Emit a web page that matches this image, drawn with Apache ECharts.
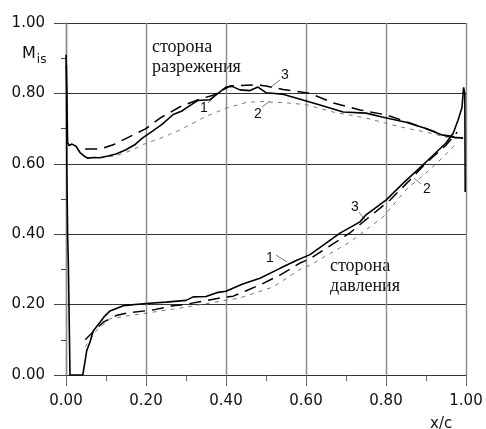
<!DOCTYPE html>
<html><head><meta charset="utf-8">
<script src="https://cdn.jsdelivr.net/npm/echarts@6/dist/echarts.min.js"></script>
<style>html,body{margin:0;padding:0;background:#fff}#c{width:486px;height:429px}</style>
</head><body><div id="c"></div>
<script>
// x/c, M_is
var xTicks = [0, 0.2, 0.4, 0.6, 0.8, 1.0];
var yTicks = [0, 0.2, 0.4, 0.6, 0.8, 1.0];

var curve1Suction = [[0.0,0.91],[0.002,0.80],[0.004,0.66],[0.008,0.652],[0.015,0.656],[0.025,0.650],[0.035,0.632],[0.048,0.620],[0.055,0.616],[0.07,0.618],[0.085,0.617],[0.105,0.622],[0.125,0.628],[0.15,0.640],[0.173,0.655],[0.19,0.672],[0.218,0.694],[0.24,0.712],[0.268,0.740],[0.29,0.750],[0.30,0.758],[0.33,0.780],[0.36,0.782],[0.38,0.80],[0.40,0.818],[0.415,0.820],[0.435,0.810],[0.46,0.808],[0.48,0.818],[0.50,0.802],[0.54,0.798],[0.59,0.782],[0.635,0.767],[0.693,0.747],[0.75,0.744],[0.79,0.733],[0.85,0.718],[0.90,0.700],[0.94,0.682],[0.97,0.675],[0.993,0.673]];
var curve1Pressure = [[0.001,0.88],[0.002,0.60],[0.004,0.40],[0.006,0.31],[0.010,0.0],[0.042,0.0],[0.052,0.07],[0.060,0.094],[0.068,0.125],[0.085,0.15],[0.095,0.165],[0.11,0.182],[0.143,0.197],[0.20,0.203],[0.25,0.207],[0.30,0.212],[0.318,0.222],[0.35,0.223],[0.377,0.234],[0.40,0.238],[0.44,0.258],[0.485,0.275],[0.535,0.303],[0.577,0.326],[0.61,0.342],[0.685,0.403],[0.735,0.435],[0.75,0.455],[0.80,0.497],[0.843,0.545],[0.90,0.605],[0.95,0.659],[0.968,0.687],[0.98,0.724],[0.99,0.76],[0.994,0.817],[0.997,0.80],[0.998,0.52]];
var curve2Suction = [[0.085,0.618],[0.123,0.622],[0.168,0.640],[0.193,0.655],[0.235,0.672],[0.285,0.696],[0.35,0.735],[0.40,0.758],[0.45,0.774],[0.485,0.777],[0.553,0.773],[0.60,0.768],[0.668,0.747],[0.75,0.730],[0.835,0.705],[0.90,0.690],[0.95,0.676],[0.99,0.673]];
var curve2Pressure = [[0.048,0.08],[0.077,0.128],[0.11,0.160],[0.168,0.170],[0.30,0.193],[0.435,0.219],[0.518,0.250],[0.585,0.300],[0.61,0.312],[0.71,0.378],[0.793,0.449],[0.85,0.526],[0.90,0.574],[0.943,0.619],[0.96,0.639],[0.98,0.662]];
var curve3Suction = [[0.048,0.642],[0.085,0.642],[0.12,0.655],[0.168,0.682],[0.20,0.700],[0.235,0.730],[0.285,0.762],[0.335,0.784],[0.368,0.795],[0.41,0.821],[0.43,0.822],[0.477,0.824],[0.50,0.821],[0.543,0.811],[0.61,0.800],[0.668,0.773],[0.735,0.753],[0.80,0.739],[0.86,0.716],[0.90,0.700],[0.943,0.682],[0.975,0.676],[0.99,0.675]];
var curve3Pressure = [[0.048,0.10],[0.07,0.125],[0.093,0.150],[0.128,0.170],[0.153,0.176],[0.218,0.185],[0.268,0.197],[0.30,0.201],[0.353,0.212],[0.385,0.219],[0.418,0.224],[0.452,0.240],[0.485,0.256],[0.535,0.284],[0.585,0.318],[0.61,0.330],[0.71,0.404],[0.755,0.446],[0.81,0.497],[0.86,0.554],[0.90,0.602],[0.95,0.653],[0.978,0.690]];

var suctionText = ['сторона', 'разрежения'];
var pressureText = ['сторона', 'давления'];
var xName = 'x/c';

var chart = echarts.init(document.getElementById('c'), null, {renderer:'canvas'});
function lineSeries(name, data, style){
  return {name:name, type:'line', data:data, symbol:'none', silent:true, animation:false,
    lineStyle:style, z:3};
}
var s1 = {color:'#000', width:1.6, type:'solid'};
var s2 = {color:'#7a7a7a', width:1, type:[4,5]};
var s3 = {color:'#000', width:1.5, type:[12,7]};
function lbl(t, x, y){ return {type:'text', left:x-4, top:y-8, style:{text:t, fontFamily:'Liberation Sans', fontSize:14, fill:'#111'}}; }
function leader(x1,y1,x2,y2){ return {type:'line', shape:{x1:x1,y1:y1,x2:x2,y2:y2}, style:{stroke:'#555', lineWidth:0.8}}; }
var serif = {fontFamily:'Liberation Serif', fontSize:18, lineHeight:20, fill:'#111'};
chart.setOption({
  animation:false,
  backgroundColor:'#fff',
  grid:{left:66, top:23, width:400, height:352, show:false},
  xAxis:{type:'value', min:0, max:1, interval:0.2,
    axisLine:{show:true, onZero:false, lineStyle:{color:'#333', width:1}},
    axisTick:{show:true, length:11, lineStyle:{color:'#666', width:1}},
    minorTick:{show:true, splitNumber:2, length:6, lineStyle:{color:'#666'}},
    axisLabel:{formatter:function(v){return v.toFixed(2);}, margin:19, fontFamily:'DejaVu Sans', fontSize:15, color:'#111'},
    splitLine:{show:true, lineStyle:{color:'#8a8a8a', width:1.4}}
  },
  yAxis:{type:'value', min:0, max:1, interval:0.2,
    axisLine:{show:true, onZero:false, lineStyle:{color:'#8a8a8a', width:1.4}},
    axisTick:{show:true, length:12, lineStyle:{color:'#444', width:1}},
    minorTick:{show:true, splitNumber:2, length:5, lineStyle:{color:'#444'}},
    axisLabel:{formatter:function(v){return v.toFixed(2);}, margin:21, fontFamily:'DejaVu Sans', fontSize:15, color:'#111'},
    splitLine:{show:true, lineStyle:{color:'#333', width:1}}
  },
  series:[
    lineSeries('2 suction', curve2Suction, s2),
    lineSeries('2 pressure', curve2Pressure, s2),
    lineSeries('3 suction', curve3Suction, s3),
    lineSeries('3 pressure', curve3Pressure, s3),
    lineSeries('1 suction', curve1Suction, s1),
    lineSeries('1 pressure', curve1Pressure, s1)
  ],
  graphic:[
    {type:'text', left:22, top:46, style:{rich:{m:{fontFamily:'DejaVu Sans', fontSize:16, fill:'#111', verticalAlign:'bottom'}, s:{fontFamily:'DejaVu Sans', fontSize:12, fill:'#111', verticalAlign:'bottom', padding:[0,0,-4,1]}}, text:'{m|M}{s|is}'}},
    {type:'text', left:430, top:417, style:{text:xName, fontFamily:'DejaVu Sans', fontSize:15, fill:'#111'}},
    {type:'text', left:152, top:37, style:Object.assign({text:suctionText.join('\n')}, serif)},
    {type:'text', left:330, top:256, style:Object.assign({text:pressureText.join('\n')}, serif)},
    lbl('1', 204, 109), leader(208,103,214,97),
    lbl('2', 258, 115), leader(262,107,270,101),
    lbl('3', 285, 76), leader(280,80,271,87),
    lbl('1', 270, 259), leader(276,255,287,262),
    lbl('3', 355, 208), leader(359,212,366,221),
    lbl('2', 427, 190), leader(421,184,414,178)
  ]
});
</script></body></html>
